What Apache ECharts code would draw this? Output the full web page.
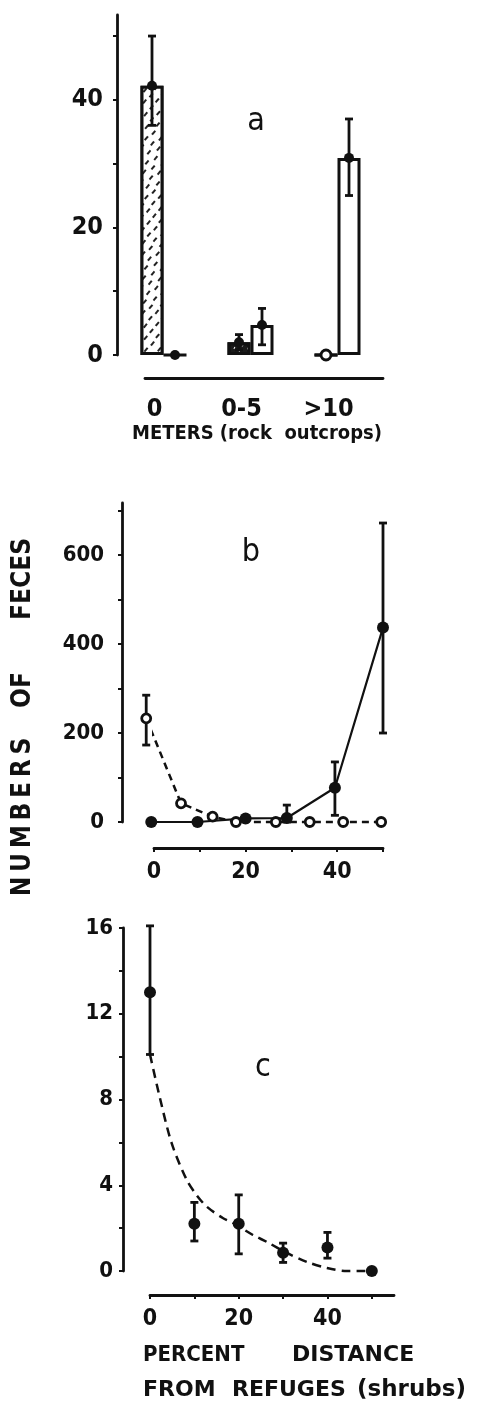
<!DOCTYPE html>
<html><head><meta charset="utf-8">
<script src="https://cdn.jsdelivr.net/npm/echarts@6/dist/echarts.min.js"></script>
<style>html,body{margin:0;padding:0;background:#fff}#c{width:487px;height:1401px}</style>
</head><body><div id="c"></div>
<script>
// ---------- Panel a : distance from rock outcrops ----------
const catsA = ['0', '0-5', '>10'];
const rockMean = [42.2, 2.0, 0];
const rockLo = [36, 0.8, 0];
const rockHi = [50, 3.2, 0];
const openMean = [0, 4.7, 30.9];
const openLo = [0, 1.6, 25];
const openHi = [0, 7.3, 37];
const ticksAY = [0, 10, 20, 30, 40, 50];
const labelsAY = [0, 20, 40];

// ---------- Panel b : numbers of feces ----------
const solidX = [-0.6, 9.5, 20, 29, 39.5, 50];
const solidY = [0, 0, 8, 9, 77, 437];
const solidLo = [0, 0, 8, 0, 15, 200];
const solidHi = [0, 0, 8, 38, 135, 672];
const dashX = [-1.7, 5.9, 12.8, 17.9, 26.6, 34, 41.3, 49.6];
const dashY = [233, 42, 12, 0, 0, 0, 0, 0];
const dashLo = [173, 42, 12, 0, 0, 0, 0, 0];
const dashHi = [285, 42, 12, 0, 0, 0, 0, 0];
const ticksBY = [0, 100, 200, 300, 400, 500, 600, 700];
const labelsBY = [0, 200, 400, 600];
const ticksBX = [0, 10, 20, 30, 40, 50];
const labelsBX = [0, 20, 40];

// ---------- Panel c : percent distance from refuges ----------
const cX = [0, 10, 20, 30, 40, 50];
const cY = [13.0, 2.2, 2.2, 0.85, 1.1, 0];
const cLo = [10.1, 1.4, 0.8, 0.4, 0.6, 0];
const cHi = [16.1, 3.2, 3.55, 1.3, 1.8, 0];
const fitX = [0, 2.2, 4.9, 8.3, 10.5, 12.8, 16.4, 18.7, 23.2, 26.4, 30.9, 35.4, 39.9, 44.4, 48, 50];
const fitY = [10.1, 8.1, 5.95, 4.24, 3.54, 3.0, 2.47, 2.24, 1.68, 1.35, 0.84, 0.42, 0.14, 0, 0, 0];
const ticksCY = [0, 2, 4, 6, 8, 10, 12, 14, 16];
const labelsCY = [0, 4, 8, 12, 16];
const ticksCX = [0, 10, 20, 30, 40, 50];
const labelsCX = [0, 20, 40];

// ---------- styling ----------
const FONT = "'DejaVu Sans Condensed', 'Liberation Sans Narrow', 'DejaVu Sans', sans-serif";
const WIDE = "'DejaVu Sans', sans-serif";
const INK = '#111';
const LW = 2.8;

const zip = (a, b) => a.map((v, i) => [v, b[i]]);
const zip3 = (a, b, c) => a.map((v, i) => [v, b[i], c[i]]);

function errItem(dx, cap) {
  return function (params, api) {
    const x = api.value(0), lo = api.value(1), hi = api.value(2);
    if (hi === lo) return null;
    const p1 = api.coord([x, hi]), p2 = api.coord([x, lo]);
    const px = p1[0] + dx;
    const st = { stroke: INK, lineWidth: LW };
    return { type: 'group', children: [
      { type: 'line', shape: { x1: px, y1: p1[1], x2: px, y2: p2[1] }, style: st },
      { type: 'line', shape: { x1: px - cap, y1: p1[1], x2: px + cap, y2: p1[1] }, style: st },
      { type: 'line', shape: { x1: px - cap, y1: p2[1], x2: px + cap, y2: p2[1] }, style: st }
    ] };
  };
}

function valAxis(grid, max, offset, ticks, labels, margin, size) {
  return {
    type: 'value', gridIndex: grid, min: 0, max: max, offset: offset,
    splitLine: { show: false },
    axisLine: { show: true, onZero: false, lineStyle: { color: INK, width: LW } },
    axisTick: { show: true, customValues: ticks, length: 4, lineStyle: { color: INK, width: 2 } },
    axisLabel: { customValues: labels, margin: margin, color: INK, fontFamily: FONT, fontWeight: 'bold', fontSize: size }
  };
}

const stipple = {
  symbol: 'rect', symbolSize: 1, color: '#222', backgroundColor: '#fff',
  dashArrayX: [[1.5, 6], [0, 3.5, 1.5, 2.5]], dashArrayY: [5, 4], rotation: 0.7
};

const barBase = { color: '#fff', borderColor: INK, borderWidth: 3 };
const dot = { color: INK, opacity: 1 };
const ring = { color: '#fff', borderColor: INK, borderWidth: LW, opacity: 1 };

const rockBars = rockMean.map((v, i) => i === 1
  ? { value: v, itemStyle: { color: '#1a1a1a', decal: { symbol: 'rect', symbolSize: 1, color: '#fff', dashArrayX: [1, 5], dashArrayY: [2, 4], rotation: 0.5 } } }
  : { value: v });
const rockMarks = rockMean.map((v, i) => i === 2 ? { value: [i, v], itemStyle: ring } : { value: [i, v] });
const openMarks = openMean.map((v, i) => ({ value: [i, v] }));

const txt = (text, x, y, size, weight, extra, fam, align) => Object.assign({
  type: 'text', x: x, y: y,
  style: { text: text, fill: INK, font: weight + ' ' + size + 'px ' + (fam || FONT), textAlign: align || 'center', textVerticalAlign: 'middle' }
}, extra || {});
const VERT = { rotation: Math.PI / 2 };
const TS = '\u2009';

const option = {
  backgroundColor: '#fff',
  animation: false,
  grid: [
    { left: 120, right: 106, top: 15, bottom: 1046 },
    { left: 145, right: 104, top: 377, bottom: 1023 },
    { left: 154, right: 104, top: 503, bottom: 579 },
    { left: 150, right: 93, top: 928, bottom: 130 }
  ],
  xAxis: [
    { type: 'category', gridIndex: 0, data: catsA,
      axisLine: { show: false }, axisTick: { show: false },
      axisLabel: { margin: 42, padding: [0, 18, 0, 0], color: INK, fontFamily: FONT, fontWeight: 'bold', fontSize: 25 } },
    { type: 'value', gridIndex: 1, min: 0, max: 1, splitLine: { show: false },
      axisLine: { show: true, onZero: false, lineStyle: { color: INK, width: LW } },
      axisTick: { show: false }, axisLabel: { show: false } },
    valAxis(2, 50, 26, ticksBX, labelsBX, 13, 23),
    valAxis(3, 55, 24, ticksCX, labelsCX, 13, 23)
  ],
  yAxis: [
    valAxis(0, 53.3, 3, ticksAY, labelsAY, 14, 25),
    { type: 'value', gridIndex: 1, min: 0, max: 1, show: false },
    valAxis(2, 717, 32, ticksBY, labelsBY, 18, 22),
    valAxis(3, 16, 27, ticksCY, labelsCY, 10, 22)
  ],
  series: [
    // panel a
    { type: 'bar', xAxisIndex: 0, yAxisIndex: 0, barWidth: 23, barGap: '0%',
      itemStyle: Object.assign({ decal: stipple }, barBase), data: rockBars, z: 2 },
    { type: 'bar', xAxisIndex: 0, yAxisIndex: 0, barWidth: 23, barGap: '0%',
      itemStyle: barBase, data: openMean, z: 2 },
    { type: 'custom', xAxisIndex: 0, yAxisIndex: 0, renderItem: errItem(-11.5, 4),
      data: zip3(catsA.map((c, i) => i), rockLo, rockHi), encode: { x: 0, y: [1, 2] }, z: 3 },
    { type: 'custom', xAxisIndex: 0, yAxisIndex: 0, renderItem: errItem(11.5, 4),
      data: zip3(catsA.map((c, i) => i), openLo, openHi), encode: { x: 0, y: [1, 2] }, z: 3 },
    { type: 'scatter', xAxisIndex: 0, yAxisIndex: 0, symbolSize: 10, symbolOffset: [-11.5, 0],
      itemStyle: dot, data: rockMarks, z: 4 },
    { type: 'scatter', xAxisIndex: 0, yAxisIndex: 0, symbolSize: 10, symbolOffset: [11.5, 0],
      itemStyle: dot, data: openMarks, z: 4 },

    // panel b
    { type: 'line', xAxisIndex: 2, yAxisIndex: 2, data: zip(solidX, solidY), symbol: 'none', clip: false,
      lineStyle: { color: INK, width: 2.2 }, z: 2 },
    { type: 'line', xAxisIndex: 2, yAxisIndex: 2, data: zip(dashX, dashY), symbol: 'none', clip: false,
      lineStyle: { color: INK, width: 2.5, type: [7, 5] }, z: 2 },
    { type: 'custom', xAxisIndex: 2, yAxisIndex: 2, renderItem: errItem(0, 4), clip: false,
      data: zip3(solidX, solidLo, solidHi), encode: { x: 0, y: [1, 2] }, z: 3 },
    { type: 'custom', xAxisIndex: 2, yAxisIndex: 2, renderItem: errItem(0, 4), clip: false,
      data: zip3(dashX, dashLo, dashHi), encode: { x: 0, y: [1, 2] }, z: 3 },
    { type: 'scatter', xAxisIndex: 2, yAxisIndex: 2, symbolSize: 12, clip: false,
      itemStyle: dot, data: zip(solidX, solidY), z: 5 },
    { type: 'scatter', xAxisIndex: 2, yAxisIndex: 2, symbolSize: 9, clip: false,
      itemStyle: ring, data: zip(dashX, dashY), z: 4 },

    // panel c
    { type: 'line', xAxisIndex: 3, yAxisIndex: 3, data: zip(fitX, fitY), symbol: 'none', smooth: 0.3, clip: false,
      lineStyle: { color: INK, width: 2.5, type: [9, 6] }, z: 2 },
    { type: 'custom', xAxisIndex: 3, yAxisIndex: 3, renderItem: errItem(0, 4), clip: false,
      data: zip3(cX, cLo, cHi), encode: { x: 0, y: [1, 2] }, z: 3 },
    { type: 'scatter', xAxisIndex: 3, yAxisIndex: 3, symbolSize: 12, clip: false,
      itemStyle: dot, data: zip(cX, cY), z: 4 }
  ],
  graphic: [
    txt('a', 256, 122, 32, 'normal'),
    txt('b', 251, 553, 32, 'normal'),
    txt('c', 263, 1068, 32, 'normal'),
    txt('METERS (rock  outcrops)', 257, 434, 20, 'bold'),
    txt('FECES', 23, 579, 26, 'bold', VERT),
    txt('OF', 23, 690, 26, 'bold', VERT),
    txt('N' + TS + 'U' + TS + 'M' + TS + 'B' + TS + 'E' + TS + 'R' + TS + 'S', 23, 817, 26, 'bold', VERT),
    txt('PERCENT', 143, 1355, 22, 'bold', null, FONT, 'left'),
    txt('DISTANCE', 292, 1355, 22, 'bold', null, WIDE, 'left'),
    txt('FROM', 143, 1390, 22, 'bold', null, WIDE, 'left'),
    txt('REFUGES', 232, 1390, 22, 'bold', null, WIDE, 'left'),
    txt('(shrubs)', 357, 1390, 23, 'bold', null, WIDE, 'left')
  ]
};

const chart = echarts.init(document.getElementById('c'), null, { renderer: 'canvas' });
chart.setOption(option);
</script>
</body></html>
